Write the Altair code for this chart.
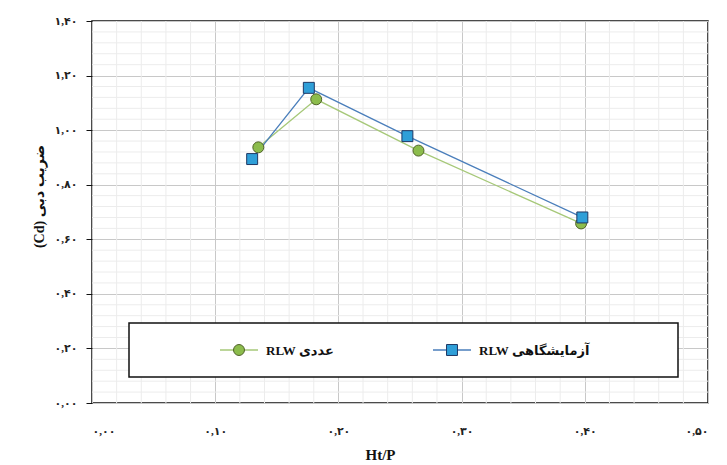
import json
import altair as alt
import pandas as pd

# ---- data ----
series_names = ["RLW عددی", "RLW آزمایشگاهی"]
htp_num = [0.135, 0.182, 0.265, 0.397]
cd_num = [0.937, 1.113, 0.925, 0.658]
htp_lab = [0.130, 0.176, 0.256, 0.398]
cd_lab = [0.894, 1.155, 0.978, 0.680]

x_ticks = [0.0, 0.1, 0.2, 0.3, 0.4, 0.5]
x_tick_labels = ["۰,۰۰", "۰,۱۰", "۰,۲۰", "۰,۳۰", "۰,۴۰", "۰,۵۰"]
y_ticks = [0.0, 0.2, 0.4, 0.6, 0.8, 1.0, 1.2, 1.4]
y_tick_labels = ["۰,۰۰", "۰,۲۰", "۰,۴۰", "۰,۶۰", "۰,۸۰", "۱,۰۰", "۱,۲۰", "۱,۴۰"]
x_minor = [round(i * 0.02, 2) for i in range(26) if i % 5 != 0]
y_minor = [round(i * 0.04, 2) for i in range(36) if i % 5 != 0]

x_title = "Ht/P"
y_title = "(Cd) ضریب دبی"

df = pd.DataFrame({
    "htp": htp_num + htp_lab,
    "cd": cd_num + cd_lab,
    "series": [series_names[0]] * len(htp_num) + [series_names[1]] * len(htp_lab),
})

line_colors = ["#a6c878", "#4a7ebb"]
fill_colors = ["#8cbc4c", "#2f9fd8"]
edge_colors = ["#4f6228", "#1f3864"]
shapes = ["circle", "square"]

FONT = "Liberation Serif, DejaVu Sans"

xscale = alt.Scale(domain=[0, 0.5], nice=False, zero=False)
yscale = alt.Scale(domain=[0, 1.4], nice=False, zero=False)

x_expr = json.dumps(x_tick_labels, ensure_ascii=False) + "[round(datum.value*10)]"
y_expr = json.dumps(y_tick_labels, ensure_ascii=False) + "[round(datum.value*5)]"

xaxis = alt.Axis(values=x_ticks, labelExpr=x_expr, grid=True, gridColor="#c8c8c8",
                 ticks=False, domain=False, labelPadding=22, labelFont=FONT,
                 labelFontSize=11, labelFontWeight="bold", labelColor="#222",
                 title=x_title, titleFont="Liberation Serif", titleFontSize=15,
                 titleFontWeight="bold", titleColor="#111", titleX=288, titleY=44)
yaxis = alt.Axis(values=y_ticks, labelExpr=y_expr, grid=True, gridColor="#c8c8c8",
                 ticks=True, tickSize=6, tickColor="#111", domain=False,
                 labelPadding=9, labelFont=FONT, labelFontSize=11,
                 labelFontWeight="bold", labelColor="#222",
                 title=y_title, titleFont=FONT, titleFontSize=14,
                 titleFontWeight="bold", titleColor="#111", titleAngle=270,
                 titleX=-53, titleY=175, titleAlign="center", titleBaseline="middle")

minor_x = alt.Chart(pd.DataFrame({"v": x_minor})).mark_rule(
    color="#ececec", strokeWidth=1).encode(x=alt.X("v:Q", scale=xscale, axis=xaxis))
minor_y = alt.Chart(pd.DataFrame({"v": y_minor})).mark_rule(
    color="#ececec", strokeWidth=1).encode(y=alt.Y("v:Q", scale=yscale, axis=yaxis))

one = alt.Data(values=[{}])

# legend frame (decoration)
legend_box = alt.Chart(one).mark_rect(
    fill="white", stroke="#111", strokeWidth=1.5).encode(
    x=alt.value(37), x2=alt.value(586), y=alt.value(302), y2=alt.value(356))

base = alt.Chart(df)

lines = base.mark_line(strokeWidth=1.3).encode(
    x=alt.X("htp:Q", scale=xscale, title=x_title),
    y=alt.Y("cd:Q", scale=yscale, title=y_title),
    color=alt.Color("series:N", scale=alt.Scale(domain=series_names, range=line_colors),
                    legend=None),
)

is_num = alt.datum.series == series_names[0]
points = base.mark_point(filled=True, size=120, strokeWidth=1, opacity=1).encode(
    x=alt.X("htp:Q", scale=xscale, title=x_title),
    y=alt.Y("cd:Q", scale=yscale, title=y_title),
    fill=alt.condition(is_num, alt.value(fill_colors[0]), alt.value(fill_colors[1])),
    stroke=alt.condition(is_num, alt.value(edge_colors[0]), alt.value(edge_colors[1])),
    shape=alt.condition(is_num, alt.value("circle"), alt.value("square")),
)

# legend entries (layout positions in pixels inside the plot)
legend_row_y = 329
legend_item_x = [147, 360]
legend_layers = []
for i, name in enumerate(series_names):
    cx = legend_item_x[i]
    legend_layers.append(alt.Chart(one).mark_rule(color=line_colors[i], strokeWidth=1.5).encode(
        x=alt.value(cx - 19), x2=alt.value(cx + 19), y=alt.value(legend_row_y)))
    legend_layers.append(alt.Chart(one).mark_point(
        filled=True, size=120, strokeWidth=1, shape=shapes[i],
        fill=fill_colors[i], stroke=edge_colors[i], opacity=1).encode(
        x=alt.value(cx), y=alt.value(legend_row_y)))
    legend_layers.append(alt.Chart(one).mark_text(
        align="left", baseline="middle", font=FONT, fontSize=13, fontWeight="bold",
        color="#111").encode(
        x=alt.value(cx + 27), y=alt.value(legend_row_y + 1), text=alt.value(name)))

chart = alt.layer(minor_x, minor_y, legend_box, lines, points, *legend_layers).properties(
    width=616, height=382,
    background="white",
    autosize=alt.AutoSizeParams(type="none"),
    padding={"left": 92, "top": 21, "right": 19, "bottom": 62},
).configure_view(stroke="#111", strokeWidth=1.5)

chart.save("out.html", embed_options={"renderer": "svg", "actions": False})
